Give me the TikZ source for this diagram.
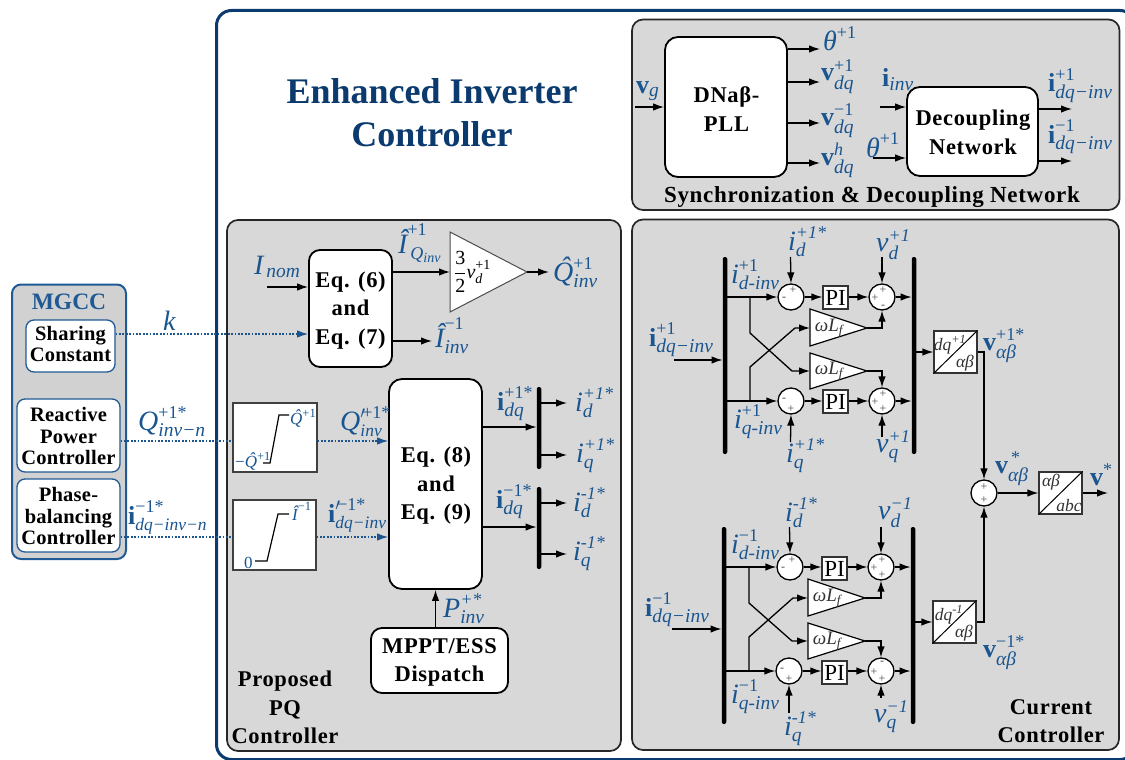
\documentclass[tikz,border=0pt]{standalone}
\usepackage{amsmath}
\usepackage[no-math]{fontspec}
\setmainfont{Liberation Serif}
\usetikzlibrary{arrows.meta}
\DeclareMathSizes{24}{24}{18}{14}
\DeclareMathSizes{17}{17}{12.5}{10}
\definecolor{lblue}{HTML}{1A5590}
\definecolor{navy}{HTML}{0B3B6E}
\definecolor{mstroke}{HTML}{1F5A94}
\definecolor{panelgr}{HTML}{D8D8D8}
\newcommand\itx[1]{\text{\normalfont\itshape #1}}
\newcommand\rmx[1]{\text{\normalfont #1}}
\newcommand\ib[1]{\mbox{\fontsize{28}{28}\selectfont\itshape #1}}
\newcommand\bb[1]{\mbox{\fontsize{26}{26}\selectfont\bfseries #1}}
\newcommand\isub[1]{\mbox{\fontsize{19.5}{20}\selectfont\itshape #1}}
\newcommand\isubb[1]{\mbox{\fontsize{17.5}{18}\selectfont\itshape #1}}
\newcommand\qh{\ooalign{Q\cr\hidewidth\kern.12em\raisebox{.17em}{ˆ}\hidewidth\cr}}
\newcommand\lab[4]{\node[lab] (#1) at (#2,#3) {$#4$};}
\newcommand\smlab[4]{\node[smlab] (#1) at (#2,#3) {$#4$};}
\newcommand\sgn[5]{\node[sgnmark,xshift=#3pt,yshift=#4pt] (#1#2) at (#1) {#5};}
\newcommand\widebf{\fontsize{22.5}{28.5}\selectfont\bfseries\addfontfeature{LetterSpace=3}}
\tikzset{
  panel/.style={draw=black!85,line width=1.7pt,fill=panelgr,rounded corners=11pt},
  rbox/.style={draw=black,line width=1.8pt,fill=white,rounded corners=11pt,inner sep=0pt},
  mbox/.style={draw=mstroke,line width=1.3pt,fill=white,rounded corners=8pt,inner sep=0pt},
  mtxt/.style={inner sep=0pt,align=center,font=\fontsize{20.5}{21.5}\selectfont\bfseries\addfontfeature{LetterSpace=1.2}},
  plainbox/.style={draw=black!75,line width=1.2pt,fill=white,inner sep=0pt},
  ctlbox/.style={draw=black!80,line width=1.2pt,fill=white,inner sep=0pt},
  pibox/.style={ctlbox,minimum width=25pt,minimum height=23pt,font=\fontsize{23}{23}\selectfont},
  bus/.style={fill=black,rounded corners=2pt,inner sep=0pt,minimum width=4.5pt},
  summer/.style={circle,draw=black,line width=1.3pt,fill=white,inner sep=0pt,minimum size=26pt},
  sgnmark/.style={inner sep=0pt,text=black!70,font=\fontsize{12}{12}\selectfont},
  arr/.style={-{Latex[length=11pt,width=7.5pt]},line width=1.3pt,draw=black},
  dot/.style={line width=1.2pt,draw=lblue,dash pattern=on 1.8pt off 1.6pt},
  dotarr/.style={dot,-{Latex[length=11pt,width=7.5pt]}},
  lab/.style={anchor=base west,inner sep=0pt,text=lblue,font=\fontsize{24}{26}\selectfont},
  smlab/.style={anchor=base west,inner sep=0pt,text=lblue,font=\fontsize{17}{18}\selectfont},
  ttl/.style={inner sep=0pt,align=center,font=\widebf},
  tritext/.style={inner sep=0pt,text=black!80,font=\fontsize{19}{20}\selectfont},
  blktext/.style={inner sep=0pt,text=black!80,font=\fontsize{17.5}{18}\selectfont},
}
\begin{document}
\begin{tikzpicture}[x=1pt,y=-1pt]
\useasboundingbox (0,0) rectangle (1125,760);
% frames
\draw[navy,line width=3pt,fill=white,rounded corners=15pt] (216.5,10.5) rectangle (1135,759.5);
\draw[panel] (632,19.5) rectangle (1119.5,210);
\draw[panel] (632,219.5) rectangle (1119,750);
\draw[panel] (227,220) rectangle (621,751);
\draw[mstroke,line width=2pt,fill=black!18,rounded corners=9pt] (12,284.5) rectangle (126,559);
\node[inner sep=0pt,align=center,text=navy,font=\fontsize{36}{43}\selectfont\bfseries] (title) at (432,113) {Enhanced Inverter\\Controller};
% MGCC
\node[inner sep=0pt,text=mstroke,font=\fontsize{23.5}{24}\selectfont\bfseries] (mgcc) at (69,302) {MGCC};
\node[mbox,minimum width=89pt,minimum height=52pt] (share) at (70.5,346) {};
\node[mbox,minimum width=103pt,minimum height=73pt] (react) at (68.5,435.5) {};
\node[mbox,minimum width=103pt,minimum height=73pt] (phase) at (68.5,515.5) {};
\node[mtxt] (sharet) at (70.5,344) {Sharing\\Constant};
\node[mtxt] (reactt) at (68.5,436) {Reactive\\Power\\Controller};
\node[mtxt] (phaset) at (68.5,516) {Phase-\\balancing\\Controller};
% Sync panel
\node[rbox,minimum width=122pt,minimum height=140pt,rounded corners=13pt] (pll) at (726,107) {};
\node[rbox,minimum width=131pt,minimum height=89pt,rounded corners=13pt] (dec) at (972.5,131.5) {};
\node[ttl] (pllt) at (726.5,109) {DNaβ-\\PLL};
\node[ttl] (dect) at (973,132.5) {Decoupling\\Network};
\coordinate (vgin) at (635,107);
\coordinate (iinvin) at (880,107);
\coordinate (thin) at (873,158);
\coordinate (ip1end) at (1072,109);
\coordinate (im1end) at (1072,161);
\coordinate (thend) at (820,49);
\coordinate (vp1end) at (820,82);
\coordinate (vm1end) at (820,123);
\coordinate (vhend) at (820,163);
\draw[arr] (vgin) -- (pll.west);
\draw[arr] (pll.east |- thend) -- (thend);
\draw[arr] (pll.east |- vp1end) -- (vp1end);
\draw[arr] (pll.east |- vm1end) -- (vm1end);
\draw[arr] (pll.east |- vhend) -- (vhend);
\draw[arr] (iinvin) -- (dec.west |- iinvin);
\draw[arr] (thin) -- (dec.west |- thin);
\draw[arr] (dec.east |- ip1end) -- (ip1end);
\draw[arr] (dec.east |- im1end) -- (im1end);
\lab{Lvg}{636}{93}{\bb{v}_{\isub{g}}}
\lab{Lth}{823}{51}{\ib{θ}^{\rmx{+1}}}
\lab{Lvp}{821}{81}{\bb{v}_{\isub{dq}}^{\rmx{+1}}}
\lab{Lvm}{821}{125}{\bb{v}_{\isub{dq}}^{\rmx{−1}}}
\lab{Lvh}{821}{165}{\bb{v}_{\isub{dq}}^{\itx{h}}}
\lab{Liinv}{882}{86}{\bb{i}_{\isub{inv}}}
\lab{Lth2}{866}{157}{\ib{θ}^{\rmx{+1}}}
\lab{Lip}{1048}{92}{\bb{i}_{\isub{dq−inv}}^{\rmx{+1}}}
\lab{Lim}{1048}{143}{\bb{i}_{\isub{dq−inv}}^{\rmx{−1}}}
\node[inner sep=0pt,font=\fontsize{23}{28}\selectfont\bfseries\addfontfeature{LetterSpace=3}] (synct) at (872,197) {Synchronization \& Decoupling Network};
% PQ panel
\node[rbox,minimum width=83pt,minimum height=117pt] (eq67) at (350.5,308.5) {};
\node[rbox,minimum width=93pt,minimum height=210pt,rounded corners=13pt] (eq89) at (435.5,484) {};
\node[rbox,minimum width=137pt,minimum height=65pt] (mppt) at (439.5,660.5) {};
\node[ttl] (eq67t) at (350.5,310.5) {Eq. (6)\\and\\Eq. (7)};
\node[ttl] (eq89t) at (436,486) {Eq. (8)\\and\\Eq. (9)};
\node[ttl] (mpptt) at (439.5,662.5) {MPPT/ESS\\Dispatch};
\draw[line width=1pt,draw=black!70,fill=white] (450,232) coordinate (gainw) -- (450,312) -- (527,272) coordinate (gaintip) -- cycle;
\node[inner sep=0pt,anchor=west,font=\fontsize{20}{22}\selectfont] (gaintxt) at (454,272) {$\displaystyle\frac{\rmx{3}}{\rmx{2}}\itx{v}_{\itx{d}}^{\rmx{+1}}$};
\coordinate (inomin) at (267,287);
\coordinate (mend) at (432,341);
\draw[arr] (inomin) -- (eq67.west |- inomin);
\draw[dotarr] (share.east |- 0,334) -- (eq67.west |- 0,334);
\draw[arr] (eq67.east |- 0,272) -- (450,272);
\draw[arr] (gaintip) -- (549,272);
\draw[arr] (eq67.east |- mend) -- (mend);
\lab{Lnom}{254}{274}{\ib{I}_{\,\isub{nom}}}
\lab{Lk}{163}{330}{\ib{k}}
\lab{LIq}{398}{253}{\ib{Î}^{\rmx{+1}}_{\,\itx{Q}_{\itx{inv}}}}
\lab{LQh}{553}{281}{\ib{\qh}^{\rmx{+1}}_{\isub{inv}}}
\lab{LIm}{435}{347}{\ib{Î}^{\rmx{−1}}_{\isub{inv}}}
% saturation boxes
\node[plainbox,minimum width=84pt,minimum height=69pt] (sat1) at (275,437.5) {};
\node[plainbox,minimum width=83pt,minimum height=70pt] (sat2) at (274.5,535) {};
\draw[line width=1.2pt] (263,463) coordinate (c1a) -- (270,463) -- (279,415) -- (289,415) coordinate (c1b);
\draw[line width=1.2pt] (255,561) coordinate (c2a) -- (267,561) -- (278,514) -- (289,514) coordinate (c2b);
\smlab{Ls1}{290}{424}{\itx{\qh}^{\rmx{+1}}}
\smlab{Ls2}{235}{467}{\rmx{−}\itx{\qh}^{\rmx{+1}}}
\smlab{Ls3}{244}{568}{\rmx{0}}
\smlab{Ls4}{292}{520}{\itx{Î}^{\rmx{−1}}}
\draw[dot] (react.east |- 0,441) -- (sat1.west |- 0,441);
\draw[dot] (phase.east |- 0,537) -- (sat2.west |- 0,537);
\draw[dotarr] (sat1.east |- 0,441) -- (eq89.west |- 0,441);
\draw[dotarr] (sat2.east |- 0,537) -- (eq89.west |- 0,537);
\lab{LQr}{138}{430}{\ib{Q}^{\rmx{+1*}}_{\isub{inv−n}}}
\lab{Lir}{128}{524}{\bb{i}^{\rmx{−1*}}_{\isubb{dq−inv−n}}}
\lab{LQp}{340}{430}{\ib{Q}^{\prime\!\rmx{+1*}}_{\isubb{inv}}}
\lab{Lipm}{328}{522}{\bb{i}^{\prime\!\rmx{−1*}}_{\isubb{dq−inv}}}
\node[bus,minimum height=82pt] (b1) at (539,428) {};
\node[bus,minimum height=82pt] (b2) at (539,528) {};
\draw[arr] (eq89.east |- 0,427) -- (b1.west |- 0,427);
\draw[arr] (eq89.east |- 0,527) -- (b2.west |- 0,527);
\coordinate (o1) at (567,403);
\coordinate (o2) at (567,455);
\coordinate (o3) at (567,503);
\coordinate (o4) at (567,554);
\draw[arr] (b1.east |- o1) -- (o1);
\draw[arr] (b1.east |- o2) -- (o2);
\draw[arr] (b2.east |- o3) -- (o3);
\draw[arr] (b2.east |- o4) -- (o4);
\lab{Lipd}{497}{410}{\bb{i}^{\rmx{+1*}}_{\isub{dq}}}
\lab{Limd}{496}{508}{\bb{i}^{\rmx{−1*}}_{\isub{dq}}}
\lab{Lo1}{575}{411}{\ib{i}^{\itx{+1*}}_{\isub{d}}}
\lab{Lo2}{576}{462}{\ib{i}^{\itx{+1*}}_{\isub{q}}}
\lab{Lo3}{573}{511}{\ib{i}^{\itx{-1*}}_{\isub{d}}}
\lab{Lo4}{573}{560}{\ib{i}^{\itx{-1*}}_{\isub{q}}}
\draw[arr] (mppt.north -| eq89) -- (eq89.south);
\lab{LP}{443}{617}{\ib{P}^{\itx{+*}}_{\isub{inv}}}
\node[ttl] (pqt) at (285,707.5) {Proposed\\PQ\\Controller};
% Current controller, positive sequence
\node[bus,minimum height=197pt] (lb1) at (725,355.5) {};
\node[bus,minimum height=197pt] (rb1) at (914,355.5) {};
\node[summer] (s1) at (791,297) {};
\node[summer] (s2) at (882,297) {};
\node[summer] (s3) at (791,401) {};
\node[summer] (s4) at (882,401) {};
\node[pibox] (pi1) at (835.5,297.5) {PI};
\node[pibox] (pi2) at (835.5,401.5) {PI};
\draw[line width=1.2pt,fill=white] (810,309) -- (810,346) -- (867,328) coordinate (t1) -- cycle;
\draw[line width=1.2pt,fill=white] (810,353) -- (810,389) -- (867,371) coordinate (t2) -- cycle;
\node[tritext] (w1) at (829,328) {$\itx{ω}\itx{L}_{\itx{f}}$};
\node[tritext] (w2) at (829,371) {$\itx{ω}\itx{L}_{\itx{f}}$};
\draw[arr] (lb1.east |- s1) -- (s1);
\draw[arr] (lb1.east |- s3) -- (s3);
\draw[arr] (s1) -- (pi1.west |- s1);
\draw[arr] (pi1.east |- s2) -- (s2);
\draw[arr] (s2) -- (rb1.west |- s2);
\draw[arr] (s3) -- (pi2.west |- s3);
\draw[arr] (pi2.east |- s4) -- (s4);
\draw[arr] (s4) -- (rb1.west |- s4);
\draw[arr] (750,297) -- (750,333) -- (792,371) -- (810,371);
\draw[arr] (750,401) -- (750,367) -- (795,328) -- (810,328);
\draw[arr] (t1) -- (s2 |- t1) -- (s2.south);
\draw[arr] (t2) -- (s4 |- t2) -- (s4.north);
\coordinate (a1) at (790.5,257);
\coordinate (a2) at (882,257);
\coordinate (a3) at (790.5,442);
\coordinate (a4) at (882,437);
\coordinate (a5) at (674,360);
\draw[arr] (a1) -- (s1.north);
\draw[arr] (a2) -- (s2.north);
\draw[arr] (a3) -- (s3.south);
\draw[arr] (a4) -- (s4.south);
\draw[arr] (a5) -- (lb1.west |- a5);
\node[ctlbox,minimum width=43pt,minimum height=42pt] (dq1) at (955.5,352) {};
\draw[line width=1pt] (dq1.south west) -- (dq1.north east);
\node[blktext] (dq1a) at (950,345) {$\itx{dq}^{\itx{+1}}$};
\node[blktext] (dq1b) at (965,363) {$\itx{αβ}$};
\draw[arr] (rb1.east |- dq1) -- (dq1.west);
\sgn{s1}{a}{2}{7}{+}\sgn{s1}{b}{-7}{-2}{-}
\sgn{s2}{a}{1}{7}{+}\sgn{s2}{b}{-7}{-1}{+}\sgn{s2}{c}{1}{-10}{-}
\sgn{s3}{a}{-7}{1}{-}\sgn{s3}{b}{0}{-8}{+}
\sgn{s4}{a}{1}{7}{+}\sgn{s4}{b}{-7}{-1}{+}\sgn{s4}{c}{1}{-8}{+}
\lab{Ld1}{788}{250}{\ib{i}^{\itx{+1*}}_{\isub{d}}}
\lab{Lvd1}{876}{251}{\ib{v}^{\itx{+1}}_{\isub{d}}}
\lab{Lid1}{731}{283}{\ib{i}^{\rmx{+1}}_{\isub{d-inv}}}
\lab{Liq1}{734}{428}{\ib{i}^{\rmx{+1}}_{\isub{q-inv}}}
\lab{Lq1}{786}{462}{\ib{i}^{\itx{+1*}}_{\isub{q}}}
\lab{Lvq1}{876}{452}{\ib{v}^{\itx{+1}}_{\isub{q}}}
\lab{Lin1}{649}{346}{\bb{i}^{\rmx{+1}}_{\isub{dq−inv}}}
\lab{Lva1}{983}{350}{\bb{v}^{\rmx{+1*}}_{\isub{αβ}}}
% negative sequence
\node[bus,minimum height=197pt] (lb2) at (724,625.5) {};
\node[bus,minimum height=197pt] (rb2) at (913,625.5) {};
\node[summer] (s5) at (790,567) {};
\node[summer] (s6) at (881,567) {};
\node[summer] (s7) at (789,671) {};
\node[summer] (s8) at (881,671) {};
\node[pibox] (pi3) at (834.5,568.5) {PI};
\node[pibox] (pi4) at (834.5,672.5) {PI};
\draw[line width=1.2pt,fill=white] (808,579) -- (808,616) -- (865,598) coordinate (t3) -- cycle;
\draw[line width=1.2pt,fill=white] (808,623) -- (808,659) -- (865,641) coordinate (t4) -- cycle;
\node[tritext] (w3) at (827,598) {$\itx{ω}\itx{L}_{\itx{f}}$};
\node[tritext] (w4) at (827,641) {$\itx{ω}\itx{L}_{\itx{f}}$};
\draw[arr] (lb2.east |- s5) -- (s5);
\draw[arr] (lb2.east |- s7) -- (s7);
\draw[arr] (s5) -- (pi3.west |- s5);
\draw[arr] (pi3.east |- s6) -- (s6);
\draw[arr] (s6) -- (rb2.west |- s6);
\draw[arr] (s7) -- (pi4.west |- s7);
\draw[arr] (pi4.east |- s8) -- (s8);
\draw[arr] (s8) -- (rb2.west |- s8);
\draw[arr] (749,567) -- (749,603) -- (792,641) -- (808,641);
\draw[arr] (749,671) -- (749,637) -- (793,598) -- (808,598);
\draw[arr] (t3) -- (s6 |- t3) -- (s6.south);
\draw[arr] (t4) -- (s8 |- t4) -- (s8.north);
\coordinate (b1a) at (789.5,527);
\coordinate (b2a) at (881,527);
\coordinate (b3a) at (789,713);
\coordinate (b4a) at (881,698);
\coordinate (b5a) at (672,629);
\draw[arr] (b1a) -- (s5.north);
\draw[arr] (b2a) -- (s6.north);
\draw[arr] (b3a) -- (s7.south);
\draw[arr] (b4a) -- (s8.south);
\draw[arr] (b5a) -- (lb2.west |- b5a);
\node[ctlbox,minimum width=43pt,minimum height=42pt] (dq2) at (954.5,622) {};
\draw[line width=1pt] (dq2.south west) -- (dq2.north east);
\node[blktext] (dq2a) at (949,615) {$\itx{dq}^{\itx{-1}}$};
\node[blktext] (dq2b) at (964,633) {$\itx{αβ}$};
\draw[arr] (rb2.east |- dq2) -- (dq2.west);
\sgn{s5}{a}{2}{7}{+}\sgn{s5}{b}{-7}{-2}{-}
\sgn{s6}{a}{1}{7}{+}\sgn{s6}{b}{-7}{-1}{+}\sgn{s6}{c}{1}{-8}{+}
\sgn{s7}{a}{-7}{1}{-}\sgn{s7}{b}{0}{-8}{+}
\sgn{s8}{a}{1}{8}{-}\sgn{s8}{b}{-7}{-1}{+}\sgn{s8}{c}{1}{-8}{+}
\lab{Ld2}{785}{521}{\ib{i}^{\itx{-1*}}_{\isub{d}}}
\lab{Lvd2}{878}{519}{\ib{v}^{\itx{−1}}_{\isub{d}}}
\lab{Lid2}{731}{553}{\ib{i}^{\rmx{−1}}_{\isub{d-inv}}}
\lab{Liq2}{731}{703}{\ib{i}^{\rmx{−1}}_{\isub{q-inv}}}
\lab{Lq2}{784}{735}{\ib{i}^{\itx{-1*}}_{\isub{q}}}
\lab{Lvq2}{874}{722}{\ib{v}^{\itx{−1}}_{\isub{q}}}
\lab{Lin2}{645}{616}{\bb{i}^{\rmx{−1}}_{\isub{dq−inv}}}
\lab{Lva2}{983}{657}{\bb{v}^{\rmx{−1*}}_{\isub{αβ}}}
% combiner
\node[summer] (sum) at (984,493) {};
\sgn{sum}{a}{0}{6}{+}\sgn{sum}{b}{0}{-7}{+}
\node[ctlbox,minimum width=43pt,minimum height=42pt] (abc) at (1060.5,493) {};
\draw[line width=1pt] (abc.south west) -- (abc.north east);
\node[blktext] (abca) at (1051,482) {$\itx{αβ}$};
\node[blktext] (abcb) at (1069,506) {$\itx{abc}$};
\coordinate (vend) at (1108,493);
\draw[arr] (dq1.east) -- (sum |- dq1) -- (sum.north);
\draw[arr] (dq2.east) -- (sum |- dq2) -- (sum.south);
\draw[arr] (sum) -- (abc);
\draw[arr] (abc) -- (vend);
\lab{Lvs}{995}{473}{\bb{v}^{\,\rmx{*}}_{\isub{αβ}}}
\lab{Lvf}{1090}{485}{\bb{v}^{\rmx{*}}}
\node[ttl] (cct) at (1051,721) {Current\\Controller};
\end{tikzpicture}
\end{document}
